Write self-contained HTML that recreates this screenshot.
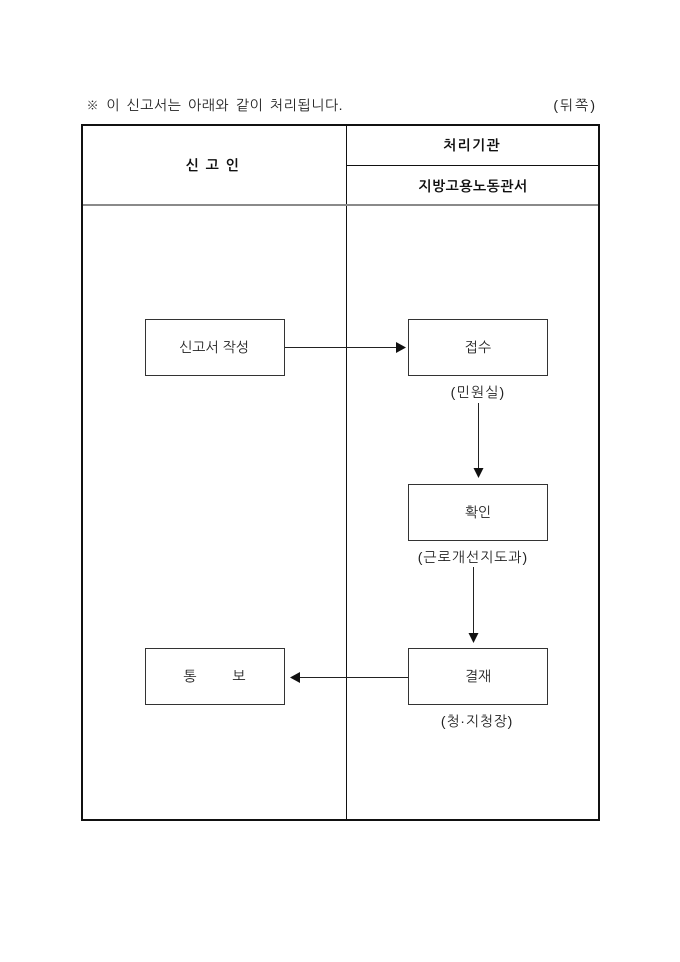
<!DOCTYPE html>
<html>
<head>
<meta charset="utf-8">
<style>
  html, body { margin: 0; padding: 0; background: #fff; }
  body { width: 680px; height: 962px; overflow: hidden; }
  svg { display: block; }
  text { font-family: "Liberation Sans", "NanumGothic", "Noto Sans CJK KR", sans-serif; fill: #222; }
  .b { font-weight: bold; fill: #111; }
</style>
</head>
<body>
<svg width="680" height="962" viewBox="0 0 680 962" xmlns="http://www.w3.org/2000/svg">
  <!-- top note -->
  <text x="86" y="105" font-size="14" dominant-baseline="central" letter-spacing="0.6" word-spacing="2">※ 이 신고서는 아래와 같이 처리됩니다.</text>
  <text x="597" y="105" font-size="14" text-anchor="end" dominant-baseline="central" letter-spacing="2">(뒤쪽)</text>

  <!-- outer table -->
  <rect x="82" y="125" width="517" height="695" fill="none" stroke="#111" stroke-width="2"/>
  <line x1="346.5" y1="125" x2="346.5" y2="820" stroke="#111" stroke-width="1"/>
  <line x1="346" y1="165.5" x2="599" y2="165.5" stroke="#111" stroke-width="1"/>
  <line x1="83" y1="205" x2="598" y2="205" stroke="#8a8a8a" stroke-width="2"/>

  <!-- header labels -->
  <text class="b" x="213" y="165" font-size="14" text-anchor="middle" dominant-baseline="central" letter-spacing="1.5">신 고 인</text>
  <text class="b" x="472" y="145" font-size="14" text-anchor="middle" dominant-baseline="central" letter-spacing="1.3">처리기관</text>
  <text class="b" x="473" y="186" font-size="14" text-anchor="middle" dominant-baseline="central" letter-spacing="0.5">지방고용노동관서</text>

  <!-- boxes -->
  <g fill="none" stroke="#333" stroke-width="1">
    <rect x="145.5" y="319.5" width="139" height="56"/>
    <rect x="408.5" y="319.5" width="139" height="56"/>
    <rect x="408.5" y="484.5" width="139" height="56"/>
    <rect x="408.5" y="648.5" width="139" height="56"/>
    <rect x="145.5" y="648.5" width="139" height="56"/>
  </g>

  <!-- box texts -->
  <text x="214" y="347" font-size="14" text-anchor="middle" dominant-baseline="central">신고서 작성</text>
  <text x="478" y="347" font-size="14" text-anchor="middle" dominant-baseline="central">접수</text>
  <text x="478" y="512" font-size="14" text-anchor="middle" dominant-baseline="central">확인</text>
  <text x="478" y="676" font-size="14" text-anchor="middle" dominant-baseline="central">결재</text>
  <text x="190" y="676" font-size="14" text-anchor="middle" dominant-baseline="central">통</text>
  <text x="239" y="676" font-size="14" text-anchor="middle" dominant-baseline="central">보</text>

  <!-- sub labels -->
  <text x="478" y="392" font-size="14" text-anchor="middle" dominant-baseline="central" letter-spacing="1.2">(민원실)</text>
  <text x="473" y="557" font-size="14" text-anchor="middle" dominant-baseline="central" letter-spacing="1">(근로개선지도과)</text>
  <text x="477" y="721" font-size="14" text-anchor="middle" dominant-baseline="central" letter-spacing="0.8">(청·지청장)</text>

  <!-- connectors -->
  <g stroke="#222" stroke-width="1">
    <line x1="285" y1="347.5" x2="397" y2="347.5"/>
    <line x1="478.5" y1="403" x2="478.5" y2="469"/>
    <line x1="473.5" y1="567" x2="473.5" y2="634"/>
    <line x1="408" y1="677.5" x2="299" y2="677.5"/>
  </g>
  <g fill="#111">
    <polygon points="396,342 406,347.5 396,353"/>
    <polygon points="473.5,468 483.5,468 478.5,478"/>
    <polygon points="468.5,633 478.5,633 473.5,643"/>
    <polygon points="300,672 290,677.5 300,683"/>
  </g>
</svg>
</body>
</html>
